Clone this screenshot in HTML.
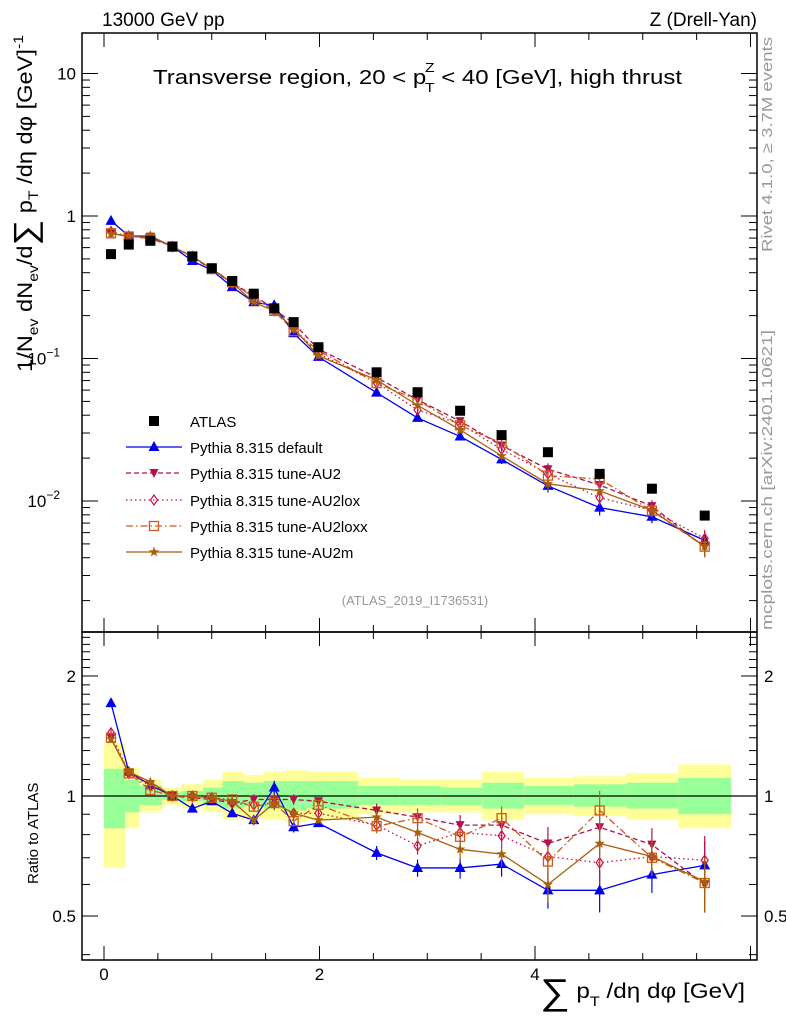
<!DOCTYPE html>
<html><head><meta charset="utf-8"><style>
html,body{margin:0;padding:0;background:#fff;}
svg{display:block;font-family:"Liberation Sans",sans-serif;}
</style></head><body>
<svg id="chart" width="786" height="1024" viewBox="0 0 786 1024" xmlns="http://www.w3.org/2000/svg">
<g id="bands"></g>
<g id="marks"></g>
<g id="axes"></g>
<text x="102" y="26" font-size="19">13000 GeV pp</text>
<text x="757" y="26" font-size="19" text-anchor="end">Z (Drell-Yan)</text>
<text x="153" y="84" font-size="20" textLength="529" lengthAdjust="spacingAndGlyphs">Transverse region, 20 &lt; p<tspan font-size="13" dx="-1" dy="8">T</tspan><tspan font-size="13" dx="-8" dy="-20">Z</tspan><tspan dy="12"> &lt; 40 [GeV], high thrust</tspan></text>
<text transform="translate(772,252) rotate(-90)" font-size="15" fill="#999" textLength="215" lengthAdjust="spacingAndGlyphs">Rivet 4.1.0, ≥ 3.7M events</text>
<text transform="translate(772,630) rotate(-90)" font-size="15" fill="#999" textLength="300" lengthAdjust="spacingAndGlyphs">mcplots.cern.ch [arXiv:2401.10621]</text>
<text x="415" y="605" font-size="13" fill="#999" text-anchor="middle">(ATLAS_2019_I1736531)</text>
<text transform="translate(32,372) rotate(-90)" font-size="21" textLength="337" lengthAdjust="spacingAndGlyphs">1/N<tspan font-size="14" dy="6">ev</tspan><tspan dy="-6"> dN</tspan><tspan font-size="14" dy="6">ev</tspan><tspan dy="-6">/d</tspan><tspan font-size="32" dy="4">∑</tspan><tspan dy="-4"> p</tspan><tspan font-size="14" dy="6">T</tspan><tspan dy="-6"> /dη dφ  [GeV]</tspan><tspan font-size="14" dy="-9">-1</tspan></text>
<text transform="translate(38,884) rotate(-90)" font-size="15">Ratio to ATLAS</text>
<text x="540" y="998" font-size="21" textLength="205" lengthAdjust="spacingAndGlyphs"><tspan font-size="36" dy="6">∑</tspan><tspan dy="-6"> p</tspan><tspan font-size="14" dy="8">T</tspan><tspan dy="-8"> /dη dφ [GeV]</tspan></text>
<g id="legend"></g>
</svg>
<script>
const xEdges=[0,0.195,0.33,0.54,0.72,0.92,1.10,1.30,1.48,1.68,1.88,2.36,2.74,3.12,3.51,3.90,4.36,4.85,5.33,5.82];
const xCenters=[0.065,0.23,0.43,0.635,0.82,1.0,1.19,1.39,1.58,1.76,1.99,2.53,2.91,3.305,3.69,4.12,4.6,5.085,5.575];
const atlas=[0.54,0.63,0.67,0.61,0.52,0.43,0.35,0.285,0.225,0.18,0.12,0.08,0.058,0.043,0.029,0.022,0.0155,0.0122,0.0079];
const ratioDefault=[1.71,1.15,1.065,1.0,0.93,0.97,0.905,0.87,1.05,0.835,0.855,0.72,0.66,0.66,0.675,0.58,0.58,0.635,0.67];
const ratioAU2=[1.40,1.14,1.07,1.0,0.99,0.98,0.96,0.98,0.98,0.98,0.97,0.92,0.885,0.845,0.845,0.76,0.835,0.755,0.60];
const ratioAU2lox=[1.44,1.14,1.06,1.0,1.0,0.99,0.96,0.95,0.96,0.905,0.905,0.845,0.75,0.81,0.795,0.705,0.68,0.705,0.69];
const ratioAU2loxx=[1.40,1.14,1.035,1.0,1.0,0.99,0.98,0.94,0.96,0.865,0.95,0.84,0.88,0.79,0.88,0.685,0.92,0.70,0.605];
const ratioAU2m=[1.39,1.15,1.085,1.0,1.0,0.99,0.97,0.87,0.96,0.905,0.87,0.885,0.81,0.735,0.715,0.60,0.76,0.705,0.61];
const relErr=[0.02,0.02,0.02,0.01,0.01,0.01,0.02,0.03,0.04,0.03,0.02,0.04,0.05,0.06,0.07,0.1,0.12,0.1,0.15];
const yellowHi=[1.36,1.18,1.10,1.05,1.07,1.10,1.15,1.13,1.15,1.16,1.15,1.11,1.10,1.10,1.15,1.11,1.12,1.14,1.20];
const greenHi=[1.17,1.10,1.06,1.02,1.03,1.05,1.09,1.08,1.09,1.09,1.09,1.06,1.06,1.05,1.08,1.06,1.07,1.08,1.11];
const greenLo=[0.83,0.91,0.95,0.98,0.97,0.95,0.93,0.94,0.93,0.92,0.93,0.95,0.95,0.95,0.93,0.95,0.94,0.93,0.90];
const yellowLo=[0.66,0.83,0.91,0.95,0.93,0.91,0.87,0.88,0.87,0.86,0.87,0.90,0.91,0.91,0.87,0.90,0.89,0.87,0.83];
const xTicks=[0,2,4];
const topTicks=[10,1,0.1,0.01];
const topTickLabels=["10","1","10","10"];
const topTickExp=["","","−1","−2"];
const ratioTicks=[0.5,1,2];
const ratioTickLabels=["0.5","1","2"];

const NS="http://www.w3.org/2000/svg";
const L=82,R=757,T=33,M=632,B=960;
const X=v=>104+v*107.75;
const Y=v=>216-Math.log10(v)*142.5;
const YR=v=>796-Math.log10(v)*398.7;
function mk(tag,attrs,parent){const e=document.createElementNS(NS,tag);for(const k in attrs)e.setAttribute(k,attrs[k]);parent.appendChild(e);return e;}
const bands=document.getElementById('bands'),marks=document.getElementById('marks'),axes=document.getElementById('axes'),legend=document.getElementById('legend');

for(let i=0;i<xCenters.length;i++){
  const x0=X(xEdges[i]),x1=X(xEdges[i+1]);
  let r=mk('rect',{x:x0,y:YR(yellowHi[i]),width:x1-x0,height:YR(yellowLo[i])-YR(yellowHi[i]),fill:'#ffff99'},bands);
  
  
  let g=mk('rect',{x:x0,y:YR(greenHi[i]),width:x1-x0,height:YR(greenLo[i])-YR(greenHi[i]),fill:'#99ff99'},bands);
  
  
}
let one=mk('line',{x1:L,x2:R,y1:YR(1),y2:YR(1),stroke:'#000','stroke-width':1.2},bands);



function marker(type,x,y,color,parent){
  let e;
  if(type==='sq') e=mk('rect',{x:x-5,y:y-5,width:10,height:10,fill:'#000'},parent);
  else if(type==='tri') e=mk('polygon',{points:`${x},${y-6} ${x-5.5},${y+4} ${x+5.5},${y+4}`,fill:color},parent);
  else if(type==='itri') e=mk('polygon',{points:`${x},${y+5} ${x-4.5},${y-4} ${x+4.5},${y-4}`,fill:color},parent);
  else if(type==='dia') e=mk('polygon',{points:`${x},${y-5} ${x-3.5},${y} ${x},${y+5} ${x+3.5},${y}`,fill:'none',stroke:color,'stroke-width':1.2},parent);
  else if(type==='osq') e=mk('rect',{x:x-4.5,y:y-4.5,width:9,height:9,fill:'none',stroke:color,'stroke-width':1.3},parent);
  else if(type==='star'){let p=[];for(let k=0;k<10;k++){const a=-Math.PI/2+k*Math.PI/5,r=k%2?2.2:5.5;p.push((x+r*Math.cos(a)).toFixed(1)+','+(y+r*Math.sin(a)).toFixed(1));}e=mk('polygon',{points:p.join(' '),fill:color},parent);}
  return e;
}
const series=[
 {name:'Pythia 8.315 default',r:ratioDefault,c:'#0000ee',m:'tri',d:''},
 {name:'Pythia 8.315 tune-AU2',r:ratioAU2,c:'#b0104f',m:'itri',d:'5,3'},
 {name:'Pythia 8.315 tune-AU2lox',r:ratioAU2lox,c:'#c8104a',m:'dia',d:'1.5,3'},
 {name:'Pythia 8.315 tune-AU2loxx',r:ratioAU2loxx,c:'#cc5a1a',m:'osq',d:'7,3,1.5,3'},
 {name:'Pythia 8.315 tune-AU2m',r:ratioAU2m,c:'#a8600c',m:'star',d:''}
];
series.forEach((s,si)=>{
  const g=mk('g',{},marks);
  
  
  const top=xCenters.map((x,i)=>[X(x),Y(atlas[i]*s.r[i])]);
  const bot=xCenters.map((x,i)=>[X(x),YR(s.r[i])]);
  [top,bot].forEach((pts,pi)=>{
    const pl=mk('polyline',{points:pts.map(p=>p.join(',')).join(' '),fill:'none',stroke:s.c,'stroke-width':1.3},g);
    if(s.d)pl.setAttribute('stroke-dasharray',s.d);
    
    
    pts.forEach((p,i)=>{
      const v=pi?s.r[i]:atlas[i]*s.r[i];const e=relErr[i];
      const yy=pi?[YR(v*(1+e)),YR(v*(1-e))]:[Y(v*(1+e)),Y(v*(1-e))];
      const eb=mk('line',{x1:p[0],x2:p[0],y1:yy[0],y2:yy[1],stroke:s.c,'stroke-width':1.2},g);
      
      
      const mm=marker(s.m,p[0],p[1],s.c,g);
      
      
    });
  });
});
const ag=mk('g',{},marks);


xCenters.forEach((x,i)=>{const m=marker('sq',X(x),Y(atlas[i]),'#000',ag);
  
  });

[[T,M],[M,B]].forEach(([a,b])=>{const f=mk('rect',{x:L,y:a,width:R-L,height:b-a,fill:'none',stroke:'#000','stroke-width':1.5},axes);
  
  });
for(let v=0;v<=6.01;v+=0.5){const maj=Math.abs(v-Math.round(v/2)*2)<1e-6;const len=maj?14:7;const px=X(v);if(px>R)break;
  [T,M].forEach(y0=>mk('line',{x1:px,x2:px,y1:y0,y2:y0+len,stroke:'#000'},axes));
  [M,B].forEach(y0=>mk('line',{x1:px,x2:px,y1:y0,y2:y0-len,stroke:'#000'},axes));}
xTicks.forEach(v=>{const t=mk('text',{x:X(v),y:980,'font-size':17,'text-anchor':'middle'},axes);t.textContent=v;
  
  });
for(let d=-3;d<=1;d++)for(let k=1;k<=9;k++){const v=k*Math.pow(10,d);const py=Y(v);if(py<T||py>M)continue;const len=k===1?16:8;
  mk('line',{x1:L,x2:L+len,y1:py,y2:py,stroke:'#000'},axes);mk('line',{x1:R,x2:R-len,y1:py,y2:py,stroke:'#000'},axes);}
topTicks.forEach((v,i)=>{const t=mk('text',{x:topTickExp[i]?60:76,y:Y(v)+6,'font-size':17,'text-anchor':'end'},axes);t.textContent=topTickLabels[i];
  
  
  if(topTickExp[i]){const s=mk('tspan',{'font-size':12,dy:-8},t);s.textContent=topTickExp[i];}});
for(let k=4;k<=25;k++){const v=k/10;const py=YR(v);if(py<M||py>B)continue;const maj=(k===5||k===10||k===20);const len=maj?16:8;
  mk('line',{x1:L,x2:L+len,y1:py,y2:py,stroke:'#000'},axes);mk('line',{x1:R,x2:R-len,y1:py,y2:py,stroke:'#000'},axes);}
ratioTicks.forEach((v,i)=>{[[76,'end'],[764,'start']].forEach(([x,an])=>{const t=mk('text',{x:x,y:YR(v)+6,'font-size':17,'text-anchor':an},axes);t.textContent=ratioTickLabels[i];
  
  });});

const ly=[421,447,473,500,526,552];
const lt=mk('text',{x:190,y:ly[0]+6,'font-size':15},legend);lt.textContent='ATLAS';


marker('sq',154,ly[0],'#000',legend);
series.forEach((s,i)=>{const y=ly[i+1];
  const l=mk('line',{x1:126,x2:182,y1:y,y2:y,stroke:s.c,'stroke-width':1.3},legend);if(s.d)l.setAttribute('stroke-dasharray',s.d);
  marker(s.m,154,y,s.c,legend);
  const t=mk('text',{x:190,y:y+6,'font-size':15},legend);t.textContent=s.name;
  
  });
</script>
</body></html>
